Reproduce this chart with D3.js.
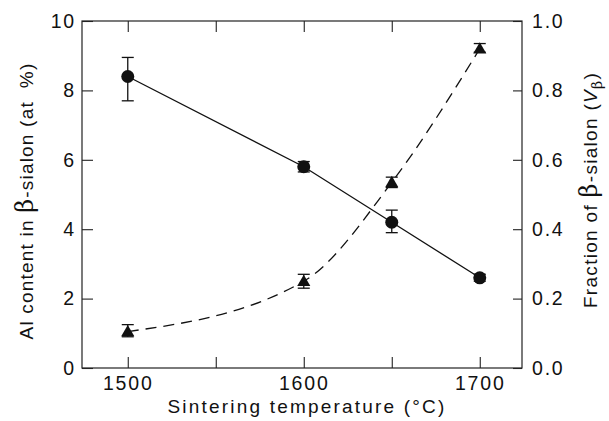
<!DOCTYPE html>
<html>
<head>
<meta charset="utf-8">
<script src="https://cdn.jsdelivr.net/npm/d3@7"></script>
<style>
  body { margin: 0; background: #fff; }
  text { font-family: "Liberation Sans", Arial, sans-serif; fill: #111; }
</style>
</head>
<body>
<div class="chart"></div>
<script>
// Chart data
var temps = [1500, 1600, 1650, 1700];
var alContent = [8.4, 5.8, 4.2, 2.6];
var alLow = [7.7, 5.65, 3.9, 2.5];
var alHigh = [8.95, 5.95, 4.55, 2.7];
var fraction = [0.105, 0.25, 0.535, 0.92];
var fracLow = [0.09, 0.23, 0.52, 0.91];
var fracHigh = [0.125, 0.27, 0.55, 0.935];
var xTicks = [1500, 1550, 1600, 1650, 1700];
var xTickLabels = [1500, 1600, 1700];
var leftTicks = [0, 2, 4, 6, 8, 10];
var rightTicks = [0, 0.2, 0.4, 0.6, 0.8, 1.0];

// Setup chart dimension
var svgWidth = 609;
var svgHeight = 421;
var margin = { top: 21, right: 87, bottom: 53, left: 82 };
var width = svgWidth - margin.left - margin.right;
var height = svgHeight - margin.top - margin.bottom;

var svg = d3.select(".chart")
  .append("svg")
  .attr("width", svgWidth)
  .attr("height", svgHeight);

var chart = svg.append("g")
  .attr("transform", "translate(" + margin.left + "," + margin.top + ")");

var xScale = d3.scaleLinear().domain([1474, 1724]).range([0, width]);
var yLeft = d3.scaleLinear().domain([0, 10]).range([height, 0]);
var yRight = d3.scaleLinear().domain([0, 1]).range([height, 0]);

// Frame
chart.append("rect")
  .attr("width", width)
  .attr("height", height)
  .attr("fill", "none")
  .attr("stroke", "#222")
  .attr("stroke-width", 1.2);

// Axes with inward ticks
var bottomAxis = d3.axisBottom(xScale).tickValues(xTicks).tickSizeInner(-11).tickSizeOuter(0)
  .tickFormat(function(d) { return xTickLabels.indexOf(d) >= 0 ? d : ""; }).tickPadding(8);
var topAxis = d3.axisTop(xScale).tickValues(xTicks).tickSizeInner(-11).tickSizeOuter(0).tickFormat("");
var leftAxis = d3.axisLeft(yLeft).tickValues(leftTicks).tickSizeInner(-11).tickSizeOuter(0)
  .tickFormat(d3.format("d")).tickPadding(6);
var rightAxis = d3.axisRight(yRight).tickValues(rightTicks).tickSizeInner(-9).tickSizeOuter(0)
  .tickFormat(d3.format(".1f")).tickPadding(10);

function styleAxis(g) {
  g.select(".domain").remove();
  g.selectAll(".tick line").attr("stroke", "#222").attr("stroke-width", 1.1);
  g.selectAll(".tick text").attr("font-size", "19.5px").attr("fill", "#111")
    .attr("font-family", "Liberation Sans, Arial, sans-serif")
    .style("letter-spacing", "1.8px");
}

chart.append("g").attr("transform", "translate(0," + height + ")").call(bottomAxis).call(styleAxis);
chart.append("g").call(topAxis).call(styleAxis);
chart.append("g").call(leftAxis).call(styleAxis);
chart.append("g").attr("transform", "translate(" + width + ",0)").call(rightAxis).call(styleAxis);

// Solid line through Al content
var alLine = d3.line()
  .x(function(d, i) { return xScale(temps[i]); })
  .y(function(d) { return yLeft(d); });

chart.append("path")
  .datum(alContent)
  .attr("d", alLine)
  .attr("fill", "none")
  .attr("stroke", "#111")
  .attr("stroke-width", 1.3);

// Dashed smooth curve through fraction
var fracLine = d3.line()
  .x(function(d, i) { return xScale(temps[i]); })
  .y(function(d) { return yRight(d); })
  .curve(d3.curveMonotoneX);

chart.append("path")
  .datum(fraction)
  .attr("d", fracLine)
  .attr("fill", "none")
  .attr("stroke", "#111")
  .attr("stroke-width", 1.3)
  .attr("stroke-dasharray", "11,7");

// Error bars
function errorBars(lo, hi, scale) {
  var g = chart.append("g").attr("stroke", "#111").attr("stroke-width", 1.3);
  temps.forEach(function(t, i) {
    var x = xScale(t);
    g.append("line").attr("x1", x).attr("x2", x).attr("y1", scale(lo[i])).attr("y2", scale(hi[i]));
    g.append("line").attr("x1", x - 6).attr("x2", x + 6).attr("y1", scale(lo[i])).attr("y2", scale(lo[i]));
    g.append("line").attr("x1", x - 6).attr("x2", x + 6).attr("y1", scale(hi[i])).attr("y2", scale(hi[i]));
  });
}
errorBars(alLow, alHigh, yLeft);
errorBars(fracLow, fracHigh, yRight);

// Circles
chart.selectAll("circle.al")
  .data(alContent)
  .enter().append("circle")
  .attr("class", "al")
  .attr("cx", function(d, i) { return xScale(temps[i]); })
  .attr("cy", function(d) { return yLeft(d); })
  .attr("r", 6.5)
  .attr("fill", "#111");

// Triangles
var tri = d3.symbol().type(d3.symbolTriangle).size(75);
chart.selectAll("path.frac")
  .data(fraction)
  .enter().append("path")
  .attr("class", "frac")
  .attr("d", tri)
  .attr("transform", function(d, i) {
    return "translate(" + xScale(temps[i]) + "," + (yRight(d) + 1) + ")";
  })
  .attr("fill", "#111");

// Axis labels
var leftLabel = svg.append("text")
  .attr("transform", "translate(33,201) rotate(-90)")
  .attr("text-anchor", "middle")
  .attr("font-size", "19px")
  .style("letter-spacing", "1.2px");
leftLabel.append("tspan").text("Al content in ");
leftLabel.append("tspan").attr("font-size", "24px").attr("font-family", "DejaVu Serif, serif").text("β");
leftLabel.append("tspan").text("-sialon (at\u00a0\u00a0%)");

var rightLabel = svg.append("text")
  .attr("transform", "translate(597,190) rotate(-90)")
  .attr("text-anchor", "middle")
  .attr("font-size", "19px")
  .style("letter-spacing", "1.3px");
rightLabel.append("tspan").text("Fraction of ");
rightLabel.append("tspan").attr("font-size", "24px").attr("font-family", "DejaVu Serif, serif").text("β");
rightLabel.append("tspan").text("-sialon (");
rightLabel.append("tspan").attr("font-style", "italic").text("V");
rightLabel.append("tspan").attr("font-size", "14px").attr("font-family", "DejaVu Serif, serif").attr("dy", 5).text("β");
rightLabel.append("tspan").attr("dy", -5).text(")");

svg.append("text")
  .attr("x", 307)
  .attr("y", 413)
  .attr("text-anchor", "middle")
  .attr("font-size", "19px")
  .style("letter-spacing", "2.2px")
  .text("Sintering temperature (\u00b0C)");
</script>
</body>
</html>
